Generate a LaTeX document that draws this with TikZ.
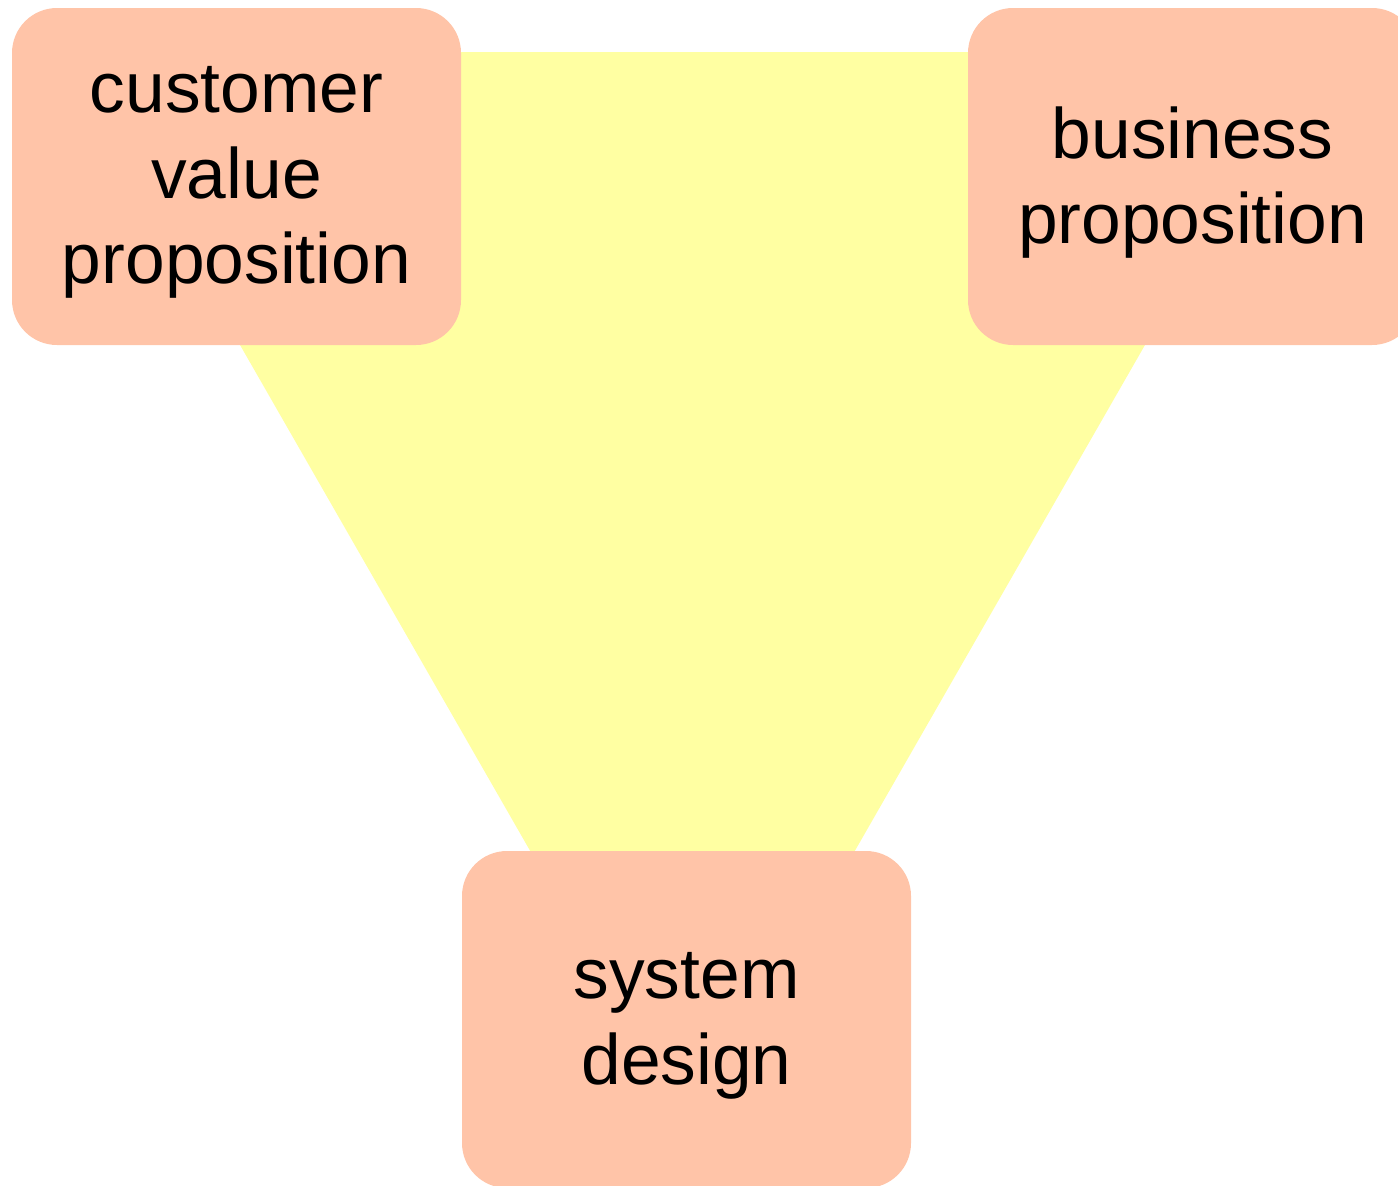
\documentclass[tikz,border=0pt]{standalone}
\usepackage{fontspec}
\setmainfont{Liberation Sans}
\usetikzlibrary{positioning}
\definecolor{peach}{RGB}{255,196,168}
\definecolor{paleyellow}{RGB}{255,255,162}
\tikzset{
  propbox/.style={fill=peach, rounded corners=0.45cm, minimum width=4.49cm, minimum height=3.37cm, inner sep=0pt},
  proptext/.style={align=center, inner sep=0pt, yshift=-0.06cm, font=\fontsize{20.3pt}{24.4pt}\selectfont}
}

\begin{document}
\begin{tikzpicture}
			%%%%% START %%%%%
			\useasboundingbox (0, 0) rectangle (13.98, 11.85);
			\clip (0, 0) rectangle (13.98, 11.85);
			
			\fill[paleyellow] (0.72, 11.33) -- (13.13, 11.33) -- (7.98, 2.35) -- (5.87, 2.35) -- cycle;
			
			\node[propbox, label={[proptext]center:customer\\value\\proposition}] (customer) at (2.365, 10.085) {};
			\node[propbox, label={[proptext]center:business\\proposition}] (business) at (11.925, 10.085) {};
			\node[propbox, label={[proptext]center:system\\design}] (system) at (6.865, 1.655) {};
			
			%%%%% END %%%%%
\end{tikzpicture}
\end{document}
